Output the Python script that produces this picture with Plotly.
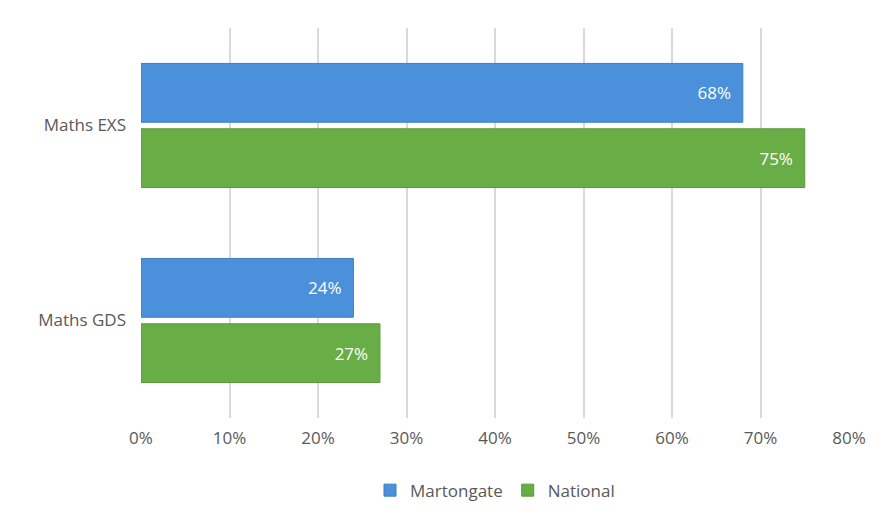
import plotly.graph_objects as go

categories = ["Maths GDS", "Maths EXS"]
martongate = [24, 68]
national = [27, 75]

fig = go.Figure()
fig.add_trace(go.Bar(y=categories, x=national, name="National", orientation="h",
                     marker=dict(color="#68AD45", line=dict(color="#5A9A3A", width=1)),
                     text=[f"{v}%  " for v in national], textposition="inside",
                     insidetextanchor="end", textfont=dict(color="white", size=17)))
fig.add_trace(go.Bar(y=categories, x=martongate, name="Martongate", orientation="h",
                     marker=dict(color="#4A90DA", line=dict(color="#3F7FC4", width=1)),
                     text=[f"{v}%  " for v in martongate], textposition="inside",
                     insidetextanchor="end", textfont=dict(color="white", size=17)))

fig.update_layout(
    width=882, height=527,
    barmode="group", bargap=0.33, bargroupgap=0.1,
    plot_bgcolor="white", paper_bgcolor="white",
    font=dict(family="Open Sans", size=17, color="#595959"),
    margin=dict(l=133, r=41, t=20, b=117, autoexpand=False),
    legend=dict(orientation="h", x=0.5, xanchor="center", y=-0.14, yanchor="top",
                traceorder="reversed", font=dict(size=17)),
    uniformtext=dict(minsize=10, mode="show"),
)
fig.update_xaxes(range=[0, 80], dtick=10, ticksuffix="%", showgrid=True,
                 gridcolor="#D9D9D9", gridwidth=1.5, zeroline=False, ticks="",
                 ticklabelstandoff=8, automargin=False)
fig.update_yaxes(showgrid=False, ticks="", ticklabelstandoff=14, automargin=False)

fig.write_html("out.html")
